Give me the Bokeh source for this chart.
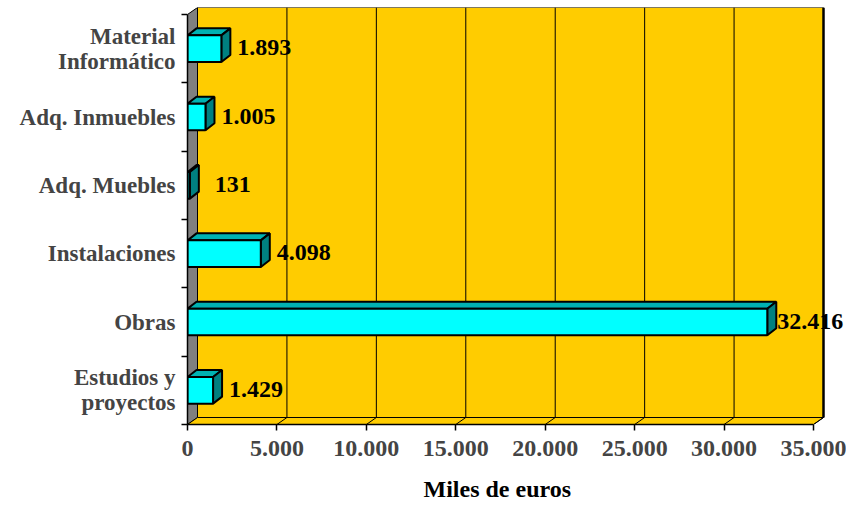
import numpy as np
from bokeh.plotting import figure
from bokeh.models import Range1d, FixedTicker, ColumnDataSource, LabelSet, Title
from bokeh.embed import file_html
from bokeh.resources import INLINE

# ---- data (bottom to top) ----
categories = ["Estudios y\nproyectos", "Obras", "Instalaciones", "Adq. Muebles",
              "Adq. Inmuebles", "Material\nInformático"]
values = [1429, 32416, 4098, 131, 1005, 1893]
x_ticks = [0, 5000, 10000, 15000, 20000, 25000, 30000, 35000]
x_title = "Miles de euros"

# ---- geometry helpers (pixel -> data) ----
FRAME_W, FRAME_H = 659, 417
XMAX = 35000
XU = XMAX / 626.0          # data units per px (x)
NCAT = len(categories)
YU = NCAT / 410.0          # data units per px (y)
x_end = FRAME_W * XU
y_end = FRAME_H * YU

dxw, dyw = 10 * XU, 7 * YU     # wall depth
dxb, dyb = 9 * XU, 7 * YU      # bar depth
half = 0.195                   # half bar thickness (category units)

FONT = "Liberation Serif"
ORANGE = "#FFCC00"

p = figure(width=846, height=511, output_backend="svg", toolbar_location=None,
           x_range=Range1d(0, x_end), y_range=Range1d(0, y_end),
           min_border_left=187, min_border_right=0, min_border_top=7, min_border_bottom=87)
p.outline_line_color = None
p.xgrid.visible = False
p.ygrid.visible = False
p.background_fill_color = "white"

# ---- walls ----
p.patch([0, dxw, dxw, 0], [0, dyw, NCAT + dyw, NCAT], fill_color="#808080",
        line_color="black", line_width=1)
p.patch([dxw, XMAX + dxw, XMAX + dxw, dxw], [dyw, dyw, NCAT + dyw, NCAT + dyw],
        fill_color=ORANGE, line_color="black", line_width=1)
p.patch([0, XMAX, XMAX + dxw, dxw], [0, 0, dyw, dyw], fill_color=ORANGE,
        line_color="black", line_width=1)
# grid lines on back wall and floor
gv = [t for t in x_ticks if 0 < t < XMAX]
p.segment(x0=[t + dxw for t in gv], y0=[dyw] * len(gv), x1=[t + dxw for t in gv],
          y1=[NCAT + dyw] * len(gv), line_color="black", line_width=1)
fv = [t for t in x_ticks if t > 0]
p.segment(x0=fv, y0=[0] * len(fv), x1=[t + dxw for t in fv], y1=[dyw] * len(fv),
          line_color="black", line_width=1)
p.segment(x0=[XMAX + dxw], y0=[dyw], x1=[XMAX + dxw], y1=[NCAT + dyw],
          line_color="black", line_width=2.5)

# ---- 3D bars ----
vals = np.array(values, dtype=float)
cen = np.arange(NCAT) + 0.5
top_xs, top_ys, side_xs, side_ys = [], [], [], []
for v, c in zip(vals, cen):
    top_xs.append([0, v, v + dxb, dxb])
    top_ys.append([c + half, c + half, c + half + dyb, c + half + dyb])
    side_xs.append([v, v, v + dxb, v + dxb])
    side_ys.append([c - half, c + half, c + half + dyb, c - half + dyb])
p.patches(top_xs, top_ys, fill_color="#00B2B2", line_color="black", line_width=2)
p.patches(side_xs, side_ys, fill_color="#008080", line_color="black", line_width=2)
p.quad(left=[0] * NCAT, right=vals, bottom=cen - half, top=cen + half,
       fill_color="#00FFFF", line_color="black", line_width=2)

# ---- value labels ----
src = ColumnDataSource(dict(x=vals, y=cen,
                            t=[f"{v:,}".replace(",", ".") for v in values]))
p.add_layout(LabelSet(x="x", y="y", text="t", source=src, x_offset=43, y_offset=1,
                      text_align="center", text_baseline="middle",
                      text_font=FONT, text_font_style="bold", text_font_size="24px",
                      text_color="black"))

# ---- axes ----
xa = p.xaxis[0]
xa.bounds = (0, XMAX)
xa.ticker = FixedTicker(ticks=x_ticks, minor_ticks=[])
xa.major_label_overrides = {t: f"{t:,}".replace(",", ".") for t in x_ticks}
xa.major_tick_out = 6
xa.major_tick_in = 0
xa.minor_tick_out = 0
xa.major_tick_line_width = 1.5
xa.axis_line_width = 1.5
xa.major_label_standoff = 10
xa.major_label_text_font = FONT
xa.major_label_text_font_style = "bold"
xa.major_label_text_font_size = "24px"

# axis title centred under the 0..35000 axis (not the wider frame)
p.add_layout(Title(text=x_title, align="left", offset=236, standoff=0,
                   padding=dict(top=15, bottom=0, left=0, right=0),
                   text_font=FONT, text_font_style="bold", text_font_size="24px",
                   text_color="black"), "below")

ya = p.yaxis[0]
ya.bounds = (0, NCAT)
ya.ticker = FixedTicker(ticks=list(cen), minor_ticks=list(range(NCAT + 1)))
ya.major_label_overrides = {float(c): lab for c, lab in zip(cen, categories)}
ya.major_tick_out = 0
ya.major_tick_in = 0
ya.minor_tick_out = 6
ya.minor_tick_in = 0
ya.minor_tick_line_width = 1.5
ya.axis_line_width = 1.5
ya.major_label_standoff = 6
ya.major_label_text_font = FONT
ya.major_label_text_font_style = "bold"
ya.major_label_text_font_size = "23px"
ya.major_label_text_line_height = 1.0

open("out.html", "w").write(file_html(p, INLINE))
